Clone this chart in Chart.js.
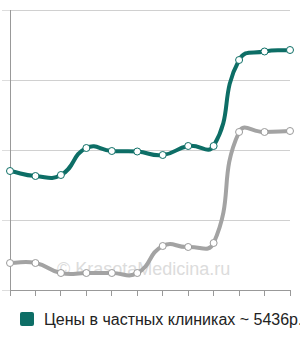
<!DOCTYPE html>
<html><head><meta charset="utf-8">
<script src="https://cdn.jsdelivr.net/npm/chart.js@4"></script>
<style>
html,body{margin:0;padding:0;background:#fff;width:300px;height:340px;overflow:hidden;font-family:"Liberation Sans",Arial,sans-serif;}
#wrap{position:absolute;left:0;top:0;width:300px;height:300px;}
#wm{position:absolute;left:57px;top:259px;font-size:18px;color:#dcdcdc;white-space:nowrap;}
#legend{position:absolute;left:20px;top:312px;white-space:nowrap;font-size:16px;color:#222;line-height:15px;}
#legend .box{display:inline-block;width:14px;height:14px;border-radius:2px;background:#0d6e66;vertical-align:top;margin-right:10px;}
</style></head>
<body>
<div id="wm">© KrasotaMedicina.ru</div>
<div id="wrap"><canvas id="c" width="300" height="300"></canvas></div>
<div id="legend"><span class="box"></span><span id="legtext"></span></div>
<script>
const categories = ["1","2","3","4","5","6","7","8","9","10","11","12"];
const privatePrices = [4250,4071,4107,5071,4964,4946,4821,5143,5143,8214,8518,8571];
const publicPrices = [964,964,607,607,607,607,1571,1536,1679,5643,5643,5679];
const yTicks = [0,2500,5000,7500,10000];
const legendLabel = "Цены в частных клиниках ~ 5436р.";
document.getElementById('legtext').textContent = legendLabel;

new Chart(document.getElementById('c'), {
  type: 'line',
  data: {
    labels: categories,
    datasets: [
      {label: legendLabel, data: privatePrices, borderColor:'#0d6e66', backgroundColor:'#0d6e66', borderWidth:4, tension:0.5,
       pointRadius:3.5, pointBackgroundColor:'#fff', pointBorderColor:'#0d6e66', pointBorderWidth:1},
      {label: 'public', data: publicPrices, borderColor:'#a3a3a3', backgroundColor:'#a3a3a3', borderWidth:4, tension:0.5,
       pointRadius:3.5, pointBackgroundColor:'#fff', pointBorderColor:'#999', pointBorderWidth:1}
    ]
  },
  options: {
    responsive:false, animation:false,
    layout:{padding:{top:10,right:10,left:0,bottom:2}},
    plugins:{legend:{display:false}, tooltip:{enabled:false}},
    scales:{
      x:{offset:false, grid:{drawOnChartArea:false, drawTicks:true, tickLength:6, color:'#999'},
         border:{color:'#999'}, ticks:{display:false},
         afterFit:s=>{s.height=8;}},
      y:{min:0,max:10000, afterBuildTicks:s=>{s.ticks=yTicks.map(v=>({value:v}));},
         grid:{color:'#d0d0d0', tickLength:8, tickColor:'#ddd'},
         border:{color:'#999'}, ticks:{display:false},
         afterFit:s=>{s.width=10;}}
    }
  }
});
</script>
</body></html>
